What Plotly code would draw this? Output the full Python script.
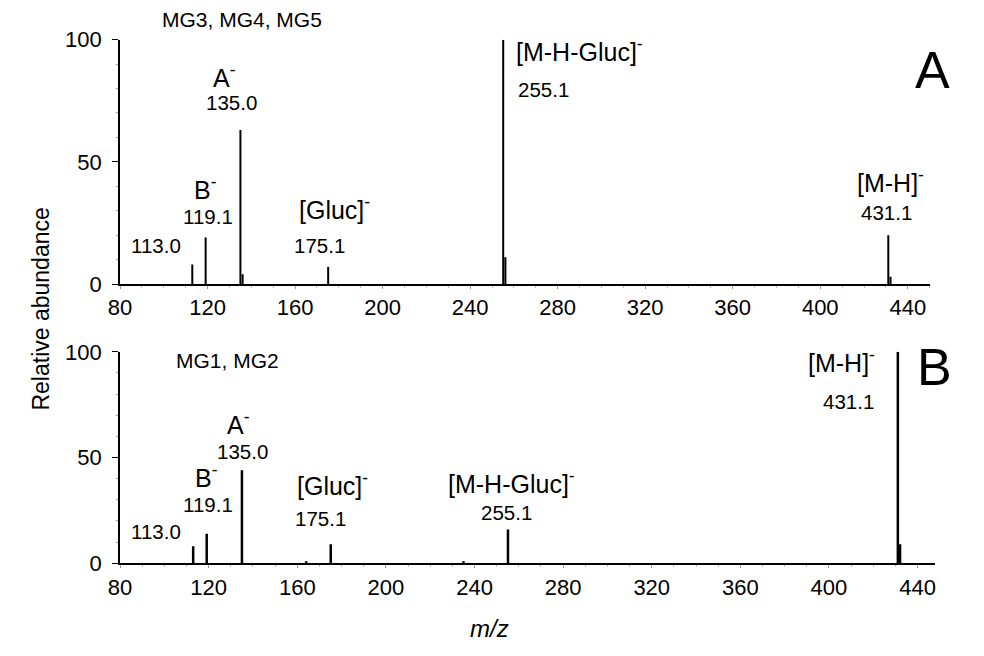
import plotly.graph_objects as go

# =============================================================================
# DATA
# =============================================================================

# panel A: MG3, MG4, MG5
mz_a = [113.0, 119.1, 135.0, 136.0, 175.1, 255.1, 256.1, 431.1, 432.1]
int_a = [8, 19, 63, 4, 7, 100, 11, 20, 3]

# panel B: MG1, MG2
mz_b = [113.0, 119.1, 135.0, 164.0, 175.1, 235.0, 255.1, 431.1, 432.1]
int_b = [8, 14, 44, 1, 9, 1, 16, 100, 9]

x_ticks = [80, 120, 160, 200, 240, 280, 320, 360, 400, 440]
y_ticks = [0, 50, 100]

FONT = "Liberation Sans, Arial, sans-serif"
W, H = 984, 656


def sticks(mz, inten):
    xs, ys = [], []
    for m, v in zip(mz, inten):
        xs += [m, m, None]
        ys += [0, v, None]
    return xs, ys


# the page comes out a little offset / squeezed in the screenshot, so map
# wanted pixel positions back to paper fractions
def px(x):
    return ((x - 17.25) / 0.9934) / W


def py(y):
    y = 40 + (y - 44) / 0.9886
    return 1 - ((y - 16) / 0.9756) / H


fig = go.Figure()

xa, ya = sticks(mz_a, int_a)
xb, yb = sticks(mz_b, int_b)
fig.add_trace(go.Scatter(x=xa, y=ya, mode="lines", line=dict(color="black", width=2),
                         xaxis="x", yaxis="y", showlegend=False, hoverinfo="skip"))
fig.add_trace(go.Scatter(x=xb, y=yb, mode="lines", line=dict(color="black", width=2.5),
                         xaxis="x2", yaxis="y2", showlegend=False, hoverinfo="skip"))

xax = dict(showgrid=False, zeroline=False, showline=True, linecolor="black", linewidth=2,
           tickmode="array", tickvals=x_ticks, ticks="outside", ticklen=3, tickcolor="#999",
           tickfont=dict(size=22, color="black", family=FONT),
           minor=dict(ticks="outside", ticklen=2, dtick=10, tickcolor="#bbb"))
yax = dict(showgrid=False, zeroline=False, showline=True, linecolor="black", linewidth=2,
           tickmode="array", tickvals=y_ticks, ticks="outside", ticklen=6, tickcolor="black",
           tickfont=dict(size=22, color="black", family=FONT), range=[0, 100],
           ticklabelstandoff=6,
           minor=dict(ticks="outside", ticklen=2, dtick=10, tickcolor="#999"))

fig.update_layout(
    width=W, height=H,
    margin=dict(l=0, r=0, t=0, b=0),
    plot_bgcolor="white", paper_bgcolor="white",
    font=dict(family=FONT, color="black"),
    xaxis=dict(xax, domain=[px(118), px(933)], range=[80, 450], anchor="y"),
    yaxis=dict(yax, domain=[py(285), py(40)], anchor="x"),
    xaxis2=dict(xax, domain=[px(118), px(938)], range=[80, 447.7], anchor="y2"),
    yaxis2=dict(yax, domain=[py(565), py(353)], anchor="x2"),
)

ION, NUM = 25, 20.5

# peak labels: (text, x, y, size, xanchor)
labels_a = [
    ("MG3, MG4, MG5", 241, 20, 21, "center"),
    ("A<sup>-</sup>", 223, 76, ION, "center"),
    ("135.0", 230, 103, NUM, "center"),
    ("B<sup>-</sup>", 204, 189, ION, "center"),
    ("119.1", 207, 217, NUM, "center"),
    ("113.0", 154, 246, NUM, "center"),
    ("[Gluc]<sup>-</sup>", 334, 209, ION, "center"),
    ("175.1", 319, 246, NUM, "center"),
    ("[M-H-Gluc]<sup>-</sup>", 516, 50, ION, "left"),
    ("255.1", 518, 90, NUM, "left"),
    ("[M-H]<sup>-</sup>", 894, 182, ION, "center"),
    ("431.1", 890, 213, NUM, "center"),
    ("A", 936, 70, 52, "center"),
]
labels_b = [
    ("MG1, MG2", 226, 362, 21, "center"),
    ("A<sup>-</sup>", 237, 424, ION, "center"),
    ("135.0", 241, 453, NUM, "center"),
    ("B<sup>-</sup>", 205, 477, ION, "center"),
    ("119.1", 207, 506, NUM, "center"),
    ("113.0", 154, 533, NUM, "center"),
    ("[Gluc]<sup>-</sup>", 332, 486, ION, "center"),
    ("175.1", 320, 520, NUM, "center"),
    ("[M-H-Gluc]<sup>-</sup>", 512, 484, ION, "center"),
    ("255.1", 507, 514, NUM, "center"),
    ("[M-H]<sup>-</sup>", 844, 362, ION, "center"),
    ("431.1", 851, 403, NUM, "center"),
    ("B", 938, 368, 52, "center"),
]

for text, x, y, size, anchor in labels_a + labels_b:
    fig.add_annotation(text=text, x=px(x), y=py(y), xref="paper", yref="paper",
                       xanchor=anchor, yanchor="middle", showarrow=False, borderpad=0,
                       font=dict(size=size, family=FONT, color="black"))

fig.add_annotation(text="Relative abundance", x=px(38), y=py(310), xref="paper", yref="paper",
                   xanchor="center", yanchor="middle", textangle=-90, showarrow=False,
                   font=dict(size=23, family=FONT, color="black"))
fig.add_annotation(text="<i>m/z</i>", x=px(490), y=py(630), xref="paper", yref="paper",
                   xanchor="center", yanchor="middle", showarrow=False,
                   font=dict(size=24, family=FONT, color="black"))

fig.write_html("out.html")
